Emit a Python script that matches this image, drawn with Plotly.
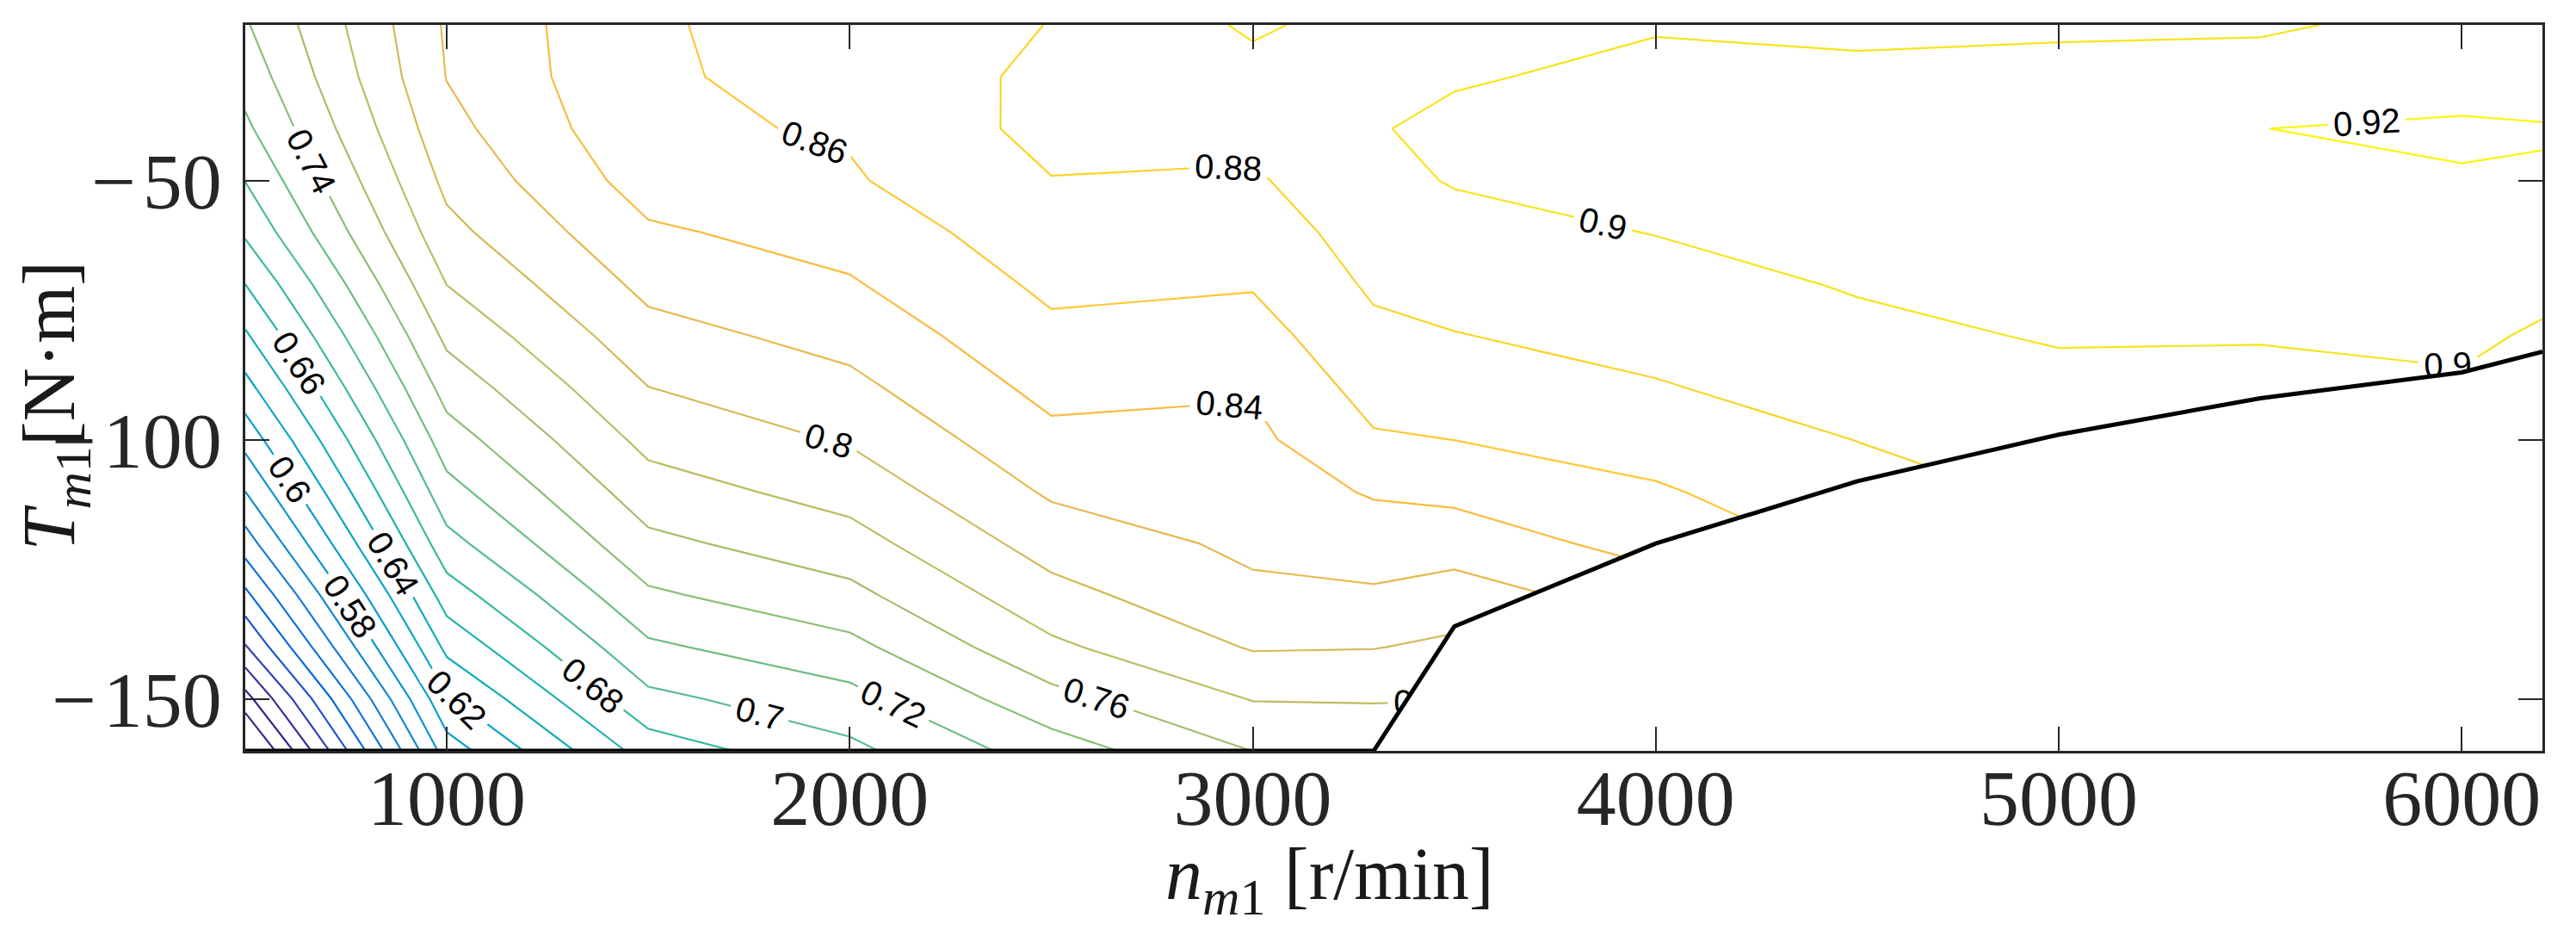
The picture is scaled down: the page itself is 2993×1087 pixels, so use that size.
import plotly.graph_objects as go

# ---------------- data ----------------
speed_rpm = [500, 1000, 1500, 2000, 2500, 3000, 3300, 3500, 4000, 4500, 5000, 5500, 6000, 6200]
torque_nm = [-160, -150, -140, -130, -120, -110, -100, -90, -80, -70, -60, -50, -40, -30, -20]

# efficiency along each speed column, torque from -160 up to -20 N*m
eff_500 = [0.367, 0.412, 0.458, 0.495, 0.530, 0.560, 0.587, 0.613, 0.637, 0.660, 0.683, 0.7005, 0.716, 0.728, 0.738]
eff_1000 = [0.590, 0.6174, 0.6453, 0.6699, 0.6932, 0.7130, 0.7309, 0.7481, 0.7646, 0.7803, 0.7942, 0.8051, 0.8139, 0.8206, 0.8225]
eff_1500 = [0.669, 0.6949, 0.7164, 0.7366, 0.7550, 0.7711, 0.7858, 0.7997, 0.8129, 0.8254, 0.8371, 0.849, 0.856, 0.858, 0.858]
eff_2000 = [0.695, 0.7133, 0.7343, 0.7544, 0.7721, 0.7877, 0.8019, 0.8148, 0.8268, 0.8381, 0.8481, 0.8579, 0.8622, 0.8651, 0.868]
eff_2500 = [0.730, 0.7534, 0.7760, 0.7933, 0.8086, 0.8228, 0.8350, 0.8458, 0.8555, 0.8641, 0.8718, 0.8794, 0.886, 0.885, 0.8805]
eff_3000 = [0.7602, 0.7809, 0.8016, 0.8160, 0.8241, 0.8297, 0.8353, 0.8417, 0.8518, 0.8615, 0.8695, 0.8775, 0.8858, 0.8942, 0.9027]
eff_3300 = [0.765, 0.7814, 0.8007, 0.8173, 0.8298, 0.8419, 0.8579, 0.8673, 0.8757, 0.8829, 0.8889, 0.8948, 0.8985, 0.896, 0.893]
eff_3500 = [0.765, 0.7805, 0.796, 0.8112, 0.8289, 0.8451, 0.8601, 0.8697, 0.8793, 0.8867, 0.8939, 0.9012, 0.905, 0.898, 0.893]
eff_4000 = [0.785, 0.801, 0.815, 0.830, 0.8476, 0.8579, 0.8682, 0.8786, 0.8861, 0.8932, 0.9005, 0.906, 0.909, 0.905, 0.8985]
eff_4500 = [0.835, 0.842, 0.850, 0.857, 0.865, 0.8727, 0.8803, 0.8879, 0.8955, 0.9015, 0.907, 0.911, 0.912, 0.904, 0.896]
eff_5000 = [0.855, 0.8605, 0.865, 0.871, 0.877, 0.883, 0.889, 0.895, 0.9015, 0.907, 0.911, 0.914, 0.915, 0.906, 0.897]
eff_5500 = [0.855, 0.8605, 0.865, 0.871, 0.877, 0.883, 0.889, 0.895, 0.901, 0.906, 0.911, 0.915, 0.9199, 0.908, 0.8975]
eff_6000 = [0.863, 0.868, 0.873, 0.878, 0.883, 0.888, 0.893, 0.898, 0.903, 0.907, 0.912, 0.919, 0.922, 0.914, 0.906]
eff_6200 = [0.865, 0.869, 0.873, 0.877, 0.881, 0.885, 0.889, 0.893, 0.898, 0.904, 0.911, 0.9186, 0.921, 0.913, 0.906]

# maximum (generating) torque envelope
limit_speed = [500, 3300, 3500, 4000, 4500, 5000, 5500, 6000, 6200]
limit_torque = [-160, -160, -136, -120, -108, -99, -92, -87, -83]

level_start, level_end, level_step = 0.40, 0.92, 0.02
x_ticks = [1000, 2000, 3000, 4000, 5000, 6000]
y_ticks = [-150, -100, -50]
y_tick_text = ["\u2212\u200a150", "\u2212\u200a100", "\u2212\u200a50"]

# ---------------- build ----------------
columns = [eff_500, eff_1000, eff_1500, eff_2000, eff_2500, eff_3000, eff_3300,
           eff_3500, eff_4000, eff_4500, eff_5000, eff_5500, eff_6000, eff_6200]
z = [[col[i] for col in columns] for i in range(len(torque_nm))]

# MATLAB parula (subset of the 64-entry table)
parula = [
    (0.2081, 0.1663, 0.5292), (0.2081, 0.2386, 0.6771), (0.1253, 0.3242, 0.8303),
    (0.0060, 0.4086, 0.8828), (0.0498, 0.4586, 0.8641), (0.0779, 0.5040, 0.8384),
    (0.0488, 0.5772, 0.8228), (0.0231, 0.6418, 0.7913), (0.0590, 0.6838, 0.7254),
    (0.1801, 0.7177, 0.6424), (0.3482, 0.7424, 0.5473), (0.5300, 0.7491, 0.4661),
    (0.6834, 0.7435, 0.4044), (0.8185, 0.7327, 0.3498), (0.9450, 0.7261, 0.2886),
    (0.9938, 0.7455, 0.2403), (0.9955, 0.7861, 0.1967), (0.9626, 0.8705, 0.1309),
    (0.9763, 0.9831, 0.0538)]
parula_pos = [0, 3, 6, 9, 12, 15, 19, 23, 27, 31, 35, 39, 43, 47, 51, 53, 55, 59, 63]


def parula_at(t):
    t = min(max(t, 0.0), 1.0) * 63
    for k in range(len(parula_pos) - 1):
        a, b = parula_pos[k], parula_pos[k + 1]
        if t <= b:
            f = (t - a) / (b - a)
            c = [parula[k][m] + f * (parula[k + 1][m] - parula[k][m]) for m in range(3)]
            return "rgb(%d,%d,%d)" % tuple(int(round(v * 255)) for v in c)
    c = parula[-1]
    return "rgb(%d,%d,%d)" % tuple(int(round(v * 255)) for v in c)


cmin, cmax = 0.43, 0.925
n_levels = int(round((level_end - level_start) / level_step)) + 1
colorscale = []
for k in range(n_levels):
    lev = level_start + k * level_step
    colorscale.append([k / (n_levels - 1), parula_at((lev - cmin) / (cmax - cmin))])

fig = go.Figure()
fig.add_trace(go.Contour(
    x=speed_rpm, y=torque_nm, z=z,
    contours=dict(start=level_start, end=level_end, size=level_step,
                  coloring="lines", showlabels=True,
                  labelfont=dict(family="Liberation Sans, Arial", size=40, color="black"),
                  labelformat=".2~f"),
    colorscale=colorscale, showscale=False,
    line=dict(width=2.2, smoothing=0), hoverinfo="skip"))

# blank region beyond the torque limit
mask_x = limit_speed[1:] + [6400, 6400, limit_speed[1]]
mask_y = limit_torque[1:] + [limit_torque[-1], -175, -175]
fig.add_trace(go.Scatter(x=mask_x, y=mask_y, fill="toself", fillcolor="white",
                         mode="lines", line=dict(width=0, color="white"),
                         hoverinfo="skip", showlegend=False))
fig.add_trace(go.Scatter(x=limit_speed, y=limit_torque, mode="lines",
                         line=dict(color="black", width=5),
                         cliponaxis=False, hoverinfo="skip", showlegend=False))

axis_col = "#262626"
tick_font = dict(family="Liberation Serif, Times New Roman, serif", size=92, color=axis_col)
common = dict(ticks="inside", ticklen=28, tickwidth=2, tickcolor=axis_col,
              showline=True, linecolor=axis_col, linewidth=2.5, mirror="allticks",
              showgrid=False, zeroline=False, tickfont=tick_font)

fig.update_layout(
    width=2993, height=1087,
    margin=dict(l=277, r=47, t=21, b=223),
    paper_bgcolor="white", plot_bgcolor="white",
    showlegend=False,
    xaxis=dict(range=[500, 6200], tickvals=x_ticks, ticklabelstandoff=-27, **common),
    yaxis=dict(range=[-160, -20], tickvals=y_ticks, ticktext=y_tick_text,
               ticklabelstandoff=6, **common),
)

title_font = dict(family="Liberation Serif, Times New Roman, serif", size=86, color="#1a1a1a")
fig.add_annotation(text="<i>n</i><sub><i>m</i>1</sub> [r/min]", xref="paper", yref="paper",
                   x=0.4721, y=-0.177, xanchor="center", yanchor="middle",
                   showarrow=False, font=title_font)
fig.add_annotation(text="<i>T</i><sub><i>m</i>1</sub>[N·m]", xref="paper", yref="paper",
                   x=-0.083, y=0.4757, xanchor="center", yanchor="middle", textangle=-90,
                   showarrow=False, font=title_font)

fig.write_html("out.html")
